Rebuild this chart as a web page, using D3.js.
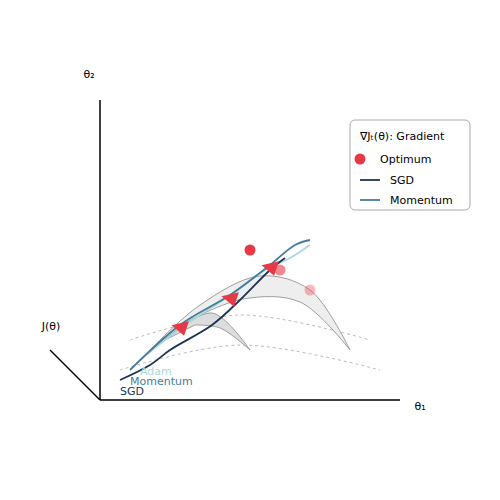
<!DOCTYPE html>
<html><head><meta charset="utf-8">
<script src="https://cdn.jsdelivr.net/npm/d3@7"></script>
<style>body{margin:0;background:#fff}text{font-family:"DejaVu Sans",sans-serif}</style>
</head><body><svg id="c" width="500" height="500"></svg>
<script>
// data in chart units (0..300 on both axes, y up)
var sgdPath = [[20,20],[50,35],[70,50],[112,75],[140,100],[170,130],[185,142]];
var momentumPath = [[30,30],[80,75],[130,105],[170,135],[195,155],[210,160]];
var adamPath = [[40,40],[85,75],[135,108],[165,130],[190,142],[210,155]];
var arrows = [[82,73],[132,102],[172,133]];
var optima = [[150,150,1],[180,130,0.6],[210,110,0.35]];
var bigOuter = [[50,50],[100,95],[160,124],[210,110],[250,50]];
var bigInner = [[250,50],[200,98],[143,101],[90,80]];
var smallOuter = [[65,60],[112,87],[150,50]];
var smallInner = [[150,50],[120,72],[95,75]];
var dashUpper = [[30,60],[140,85],[270,60]];
var dashLower = [[20,30],[140,55],[280,30]];
var pathLabels = [["Adam",40,25,"#a8dadc"],["Momentum",30,15,"#457b9d"],["SGD",20,5,"#1d3557"]];

var svg = d3.select('#c');
var x = d3.scaleLinear().domain([0,300]).range([100,400]);
var y = d3.scaleLinear().domain([0,300]).range([400,100]);
var curve = d3.line().x(function(d){return x(d[0]);}).y(function(d){return y(d[1]);}).curve(d3.curveCatmullRom);

// axes
svg.append('line').attr('x1',x(0)).attr('y1',y(0)).attr('x2',x(0)).attr('y2',y(300)).attr('stroke','#000').attr('stroke-width',1.5);
svg.append('line').attr('x1',x(0)).attr('y1',y(0)).attr('x2',x(300)).attr('y2',y(0)).attr('stroke','#000').attr('stroke-width',1.5);
svg.append('line').attr('x1',x(0)).attr('y1',y(0)).attr('x2',x(-50)).attr('y2',y(50)).attr('stroke','#000').attr('stroke-width',1.5);
svg.append('text').attr('x',x(-11)).attr('y',y(322)).attr('text-anchor','middle').attr('font-size',11).text('θ₂');
svg.append('text').attr('x',x(320)).attr('y',y(-10)).attr('text-anchor','middle').attr('font-size',11).text('θ₁');
svg.append('text').attr('x',x(-49)).attr('y',y(70)).attr('text-anchor','middle').attr('font-size',11).text('J(θ)');

// dashed contours
[dashUpper,dashLower].forEach(function(d){
  svg.append('path').attr('d',curve(d)).attr('fill','none').attr('stroke','#aaa').attr('stroke-width',0.8).attr('stroke-dasharray','3,3');
});

// crescents
svg.append('path').attr('d',curve(bigOuter)+'L'+curve(bigInner).slice(1)+'Z')
  .attr('fill','#eee').attr('stroke','#888').attr('stroke-width',0.8);
svg.append('path').attr('d',curve(smallOuter)+'L'+curve(smallInner).slice(1)+'Z')
  .attr('fill','#ddd').attr('stroke','#888').attr('stroke-width',0.8);

// optimization paths
[[adamPath,'#a8dadc'],[momentumPath,'#457b9d'],[sgdPath,'#1d3557']].forEach(function(p){
  svg.append('path').attr('d',curve(p[0])).attr('fill','none').attr('stroke',p[1]).attr('stroke-width',1.8);
});

// optima
svg.selectAll('circle.opt').data(optima).enter().append('circle')
  .attr('cx',function(d){return x(d[0]);}).attr('cy',function(d){return y(d[1]);})
  .attr('r',5.5).attr('fill','#e63946').attr('opacity',function(d){return d[2];});

// gradient arrows
svg.selectAll('path.arr').data(arrows).enter().append('path')
  .attr('d','M9,0L-7,-8L-4,8Z').attr('fill','#e63946')
  .attr('transform',function(d){return 'translate('+x(d[0])+','+y(d[1])+') rotate(-40)';});

// path labels
pathLabels.forEach(function(l){
  svg.append('text').attr('x',x(l[1])).attr('y',y(l[2])).attr('font-size',11).attr('fill',l[3]).text(l[0]);
});

// legend
var lg = svg.append('g').attr('transform','translate(350,120)');
lg.append('rect').attr('width',120).attr('height',90).attr('rx',5).attr('fill','#fff').attr('stroke','#aaa');
lg.append('text').attr('x',10).attr('y',20).attr('font-size',11).text('∇Jₜ(θ): Gradient');
lg.append('circle').attr('cx',10).attr('cy',39).attr('r',5.5).attr('fill','#e63946');
lg.append('text').attr('x',30).attr('y',43).attr('font-size',11).text('Optimum');
[['SGD','#1d3557'],['Momentum','#457b9d']].forEach(function(d,i){
  var yy = 60 + i*20;
  lg.append('line').attr('x1',10).attr('x2',30).attr('y1',yy).attr('y2',yy).attr('stroke',d[1]).attr('stroke-width',1.8);
  lg.append('text').attr('x',40).attr('y',yy+4).attr('font-size',11).text(d[0]);
});
</script></body></html>
